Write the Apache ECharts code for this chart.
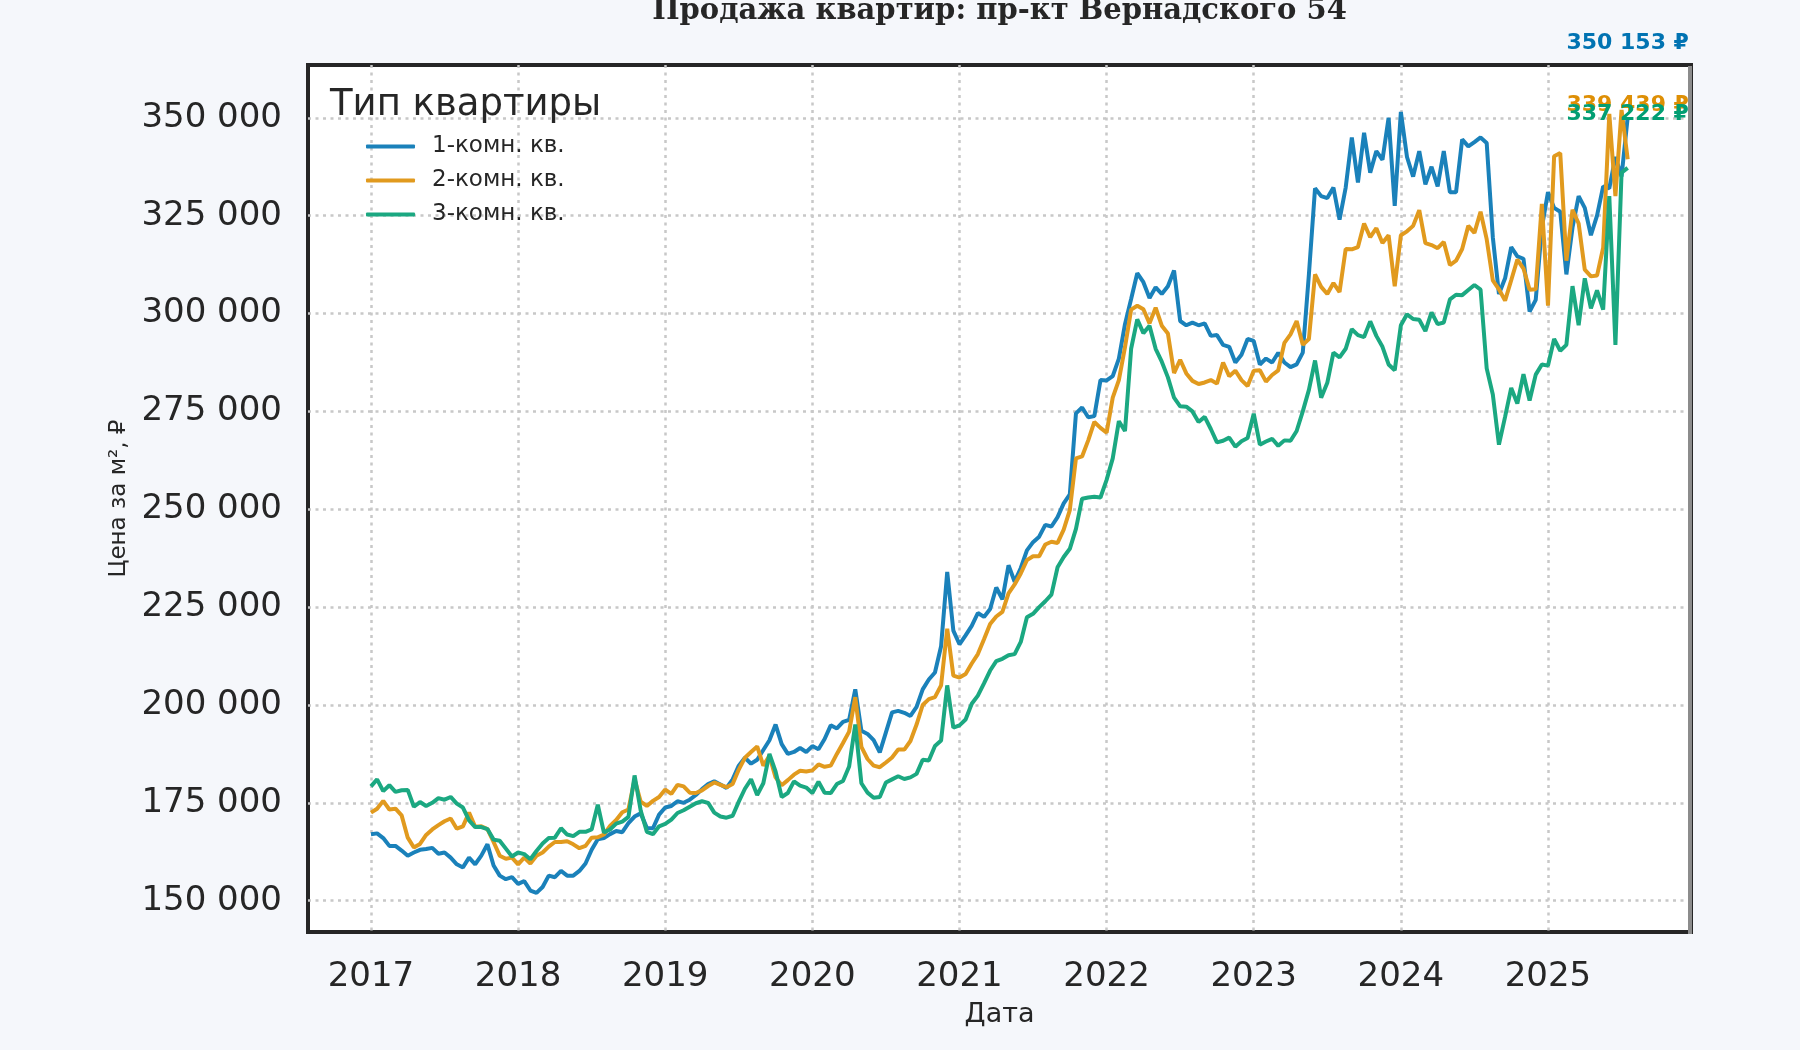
<!DOCTYPE html>
<html lang="ru">
<head>
    <meta charset="UTF-8">
    <title>Продажа квартир: пр-кт Вернадского 54</title>
    <script src="https://cdn.jsdelivr.net/npm/echarts@6/dist/echarts.min.js"></script>
    <style>
        html, body { margin: 0; padding: 0; background: #f5f7fb; }
        #main { width: 1800px; height: 1050px; }
    </style>
</head>
<body>
<div id="main"></div>
<script type="text/javascript">
    // цена за м², тыс. ₽ — отсчёты каждые полмесяца начиная с 2017-01
    var startYear = 2017;
    var stepsPerYear = 24;

    var room1 = [
        167.0, 167.2, 166.0, 164.0, 164.0, 162.8, 161.5, 162.3, 163.0, 163.2, 163.5, 162.0, 162.3, 161.0, 159.3, 158.5,
        161.0, 159.3, 161.5, 164.4, 159.0, 156.4, 155.5, 156.0, 154.3, 155.0, 152.6, 152.0, 153.5, 156.4, 156.0, 157.6,
        156.4, 156.4, 157.6, 159.5, 163.0, 165.7, 166.0, 167.0, 167.8, 167.5, 169.8, 171.5, 172.3, 168.6, 168.5, 172.0,
        173.8, 174.2, 175.4, 175.0, 175.8, 177.0, 178.5, 179.8, 180.5, 179.7, 178.8, 181.0, 184.5, 186.5, 185.0, 186.0,
        188.5, 191.0, 195.0, 190.0, 187.5, 188.0, 189.0, 188.0, 189.5, 188.7, 191.3, 194.8, 194.0, 195.7, 196.2, 204.0,
        193.4, 192.6, 191.0, 187.9, 193.0, 198.1, 198.5, 198.0, 197.2, 199.5, 204.0, 206.5, 208.3, 215.0, 234.0, 219.0,
        215.5, 217.8, 220.2, 223.5, 222.5, 224.5, 230.0, 227.0, 235.7, 231.5, 235.0, 239.5, 241.6, 243.0, 246.0, 245.6,
        248.0, 251.5, 253.8, 274.5, 276.0, 273.5, 273.8, 283.0, 282.9, 284.0, 288.5, 297.3, 303.7, 310.3, 308.0, 304.0,
        306.7, 305.0, 307.0, 311.0, 298.1, 297.0, 297.7, 297.0, 297.5, 294.3, 294.5, 292.0, 291.5, 287.5, 289.5, 293.5,
        293.0, 287.0, 288.5, 287.5, 290.0, 287.5, 286.3, 287.0, 290.0, 310.0, 332.0, 330.0, 329.5, 332.2, 324.0, 332.2,
        345.0, 333.5, 346.2, 336.0, 341.5, 339.3, 350.0, 327.5, 351.5, 340.0, 335.0, 341.5, 333.0, 337.5, 332.5, 341.5,
        331.0, 331.0, 344.5, 342.7, 343.8, 345.0, 343.6, 319.5, 305.0, 309.0, 317.0, 314.6, 314.0, 300.5, 303.5, 322.0,
        331.0, 327.0, 326.0, 310.0, 322.0, 330.0, 327.0, 320.0, 325.0, 332.5, 332.0, 340.0, 335.0, 350.153
    ];
    var room2 = [
        172.5, 173.5, 175.5, 173.3, 173.5, 171.8, 166.1, 163.6, 164.5, 166.8, 168.2, 169.3, 170.3, 171.0, 168.4, 169.0,
        172.5, 168.9, 169.0, 168.3, 165.0, 161.5, 160.7, 161.0, 159.3, 161.0, 159.5, 161.5, 162.3, 163.8, 165.0, 165.0,
        165.2, 164.4, 163.4, 164.0, 166.1, 166.2, 166.9, 169.1, 170.6, 172.6, 173.3, 181.0, 175.3, 174.2, 175.5, 176.5,
        178.4, 177.3, 179.6, 179.2, 177.6, 177.5, 178.2, 179.3, 180.2, 179.6, 179.0, 179.8, 183.5, 186.5, 188.0, 189.4,
        184.5, 187.0, 181.5, 179.5, 180.8, 182.2, 183.2, 183.0, 183.3, 184.8, 184.2, 184.5, 187.5, 190.3, 193.2, 202.0,
        189.3, 186.2, 184.5, 184.1, 185.3, 186.6, 188.6, 188.6, 190.8, 195.0, 200.0, 201.5, 202.0, 205.0, 219.5, 207.5,
        207.0, 207.9, 210.6, 213.0, 216.8, 220.7, 222.6, 223.8, 228.5, 230.8, 233.6, 237.0, 238.0, 238.0, 241.0, 241.7,
        241.4, 244.8, 249.8, 263.0, 263.5, 267.6, 272.3, 270.8, 269.6, 278.5, 283.0, 291.4, 301.0, 302.0, 301.1, 297.5,
        301.5, 296.9, 294.9, 284.8, 288.2, 284.7, 282.8, 282.0, 282.4, 283.0, 282.1, 287.5, 284.0, 285.4, 283.0, 281.5,
        285.4, 285.5, 282.6, 284.3, 285.5, 292.5, 294.7, 298.1, 292.0, 293.5, 310.0, 306.8, 305.0, 307.8, 305.5, 316.5,
        316.4, 317.0, 323.0, 319.5, 321.8, 318.0, 320.0, 307.0, 320.0, 321.0, 322.4, 326.4, 318.0, 317.5, 316.7, 318.3,
        312.4, 313.5, 316.5, 322.4, 320.6, 326.0, 319.0, 308.5, 306.2, 303.3, 308.5, 313.8, 311.5, 306.1, 306.2, 328.0,
        302.0, 340.2, 341.0, 313.5, 326.5, 323.0, 311.2, 309.5, 309.7, 316.8, 351.0, 330.0, 352.0, 339.439
    ];
    var room3 = [
        179.2, 181.0, 178.0, 179.5, 177.8, 178.2, 178.3, 174.0, 175.2, 174.2, 175.0, 176.2, 175.8, 176.5, 174.8, 173.8,
        170.5, 168.8, 168.8, 168.3, 165.6, 165.3, 163.3, 161.3, 162.3, 161.9, 160.6, 162.7, 164.6, 166.0, 166.1, 168.5,
        166.9, 166.5, 167.6, 167.6, 168.2, 174.5, 167.4, 168.2, 169.7, 170.2, 171.4, 182.0, 173.0, 167.6, 167.0, 169.0,
        169.6, 170.7, 172.4, 173.1, 174.0, 174.9, 175.4, 175.0, 172.5, 171.5, 171.2, 171.7, 175.3, 178.6, 181.0, 177.0,
        180.0, 187.5, 183.0, 176.5, 177.5, 180.5, 179.4, 178.9, 177.5, 180.4, 177.6, 177.5, 179.8, 180.6, 184.3, 195.0,
        180.0, 177.6, 176.3, 176.5, 180.2, 181.0, 181.8, 181.1, 181.5, 182.4, 186.0, 185.8, 189.5, 190.9, 205.0, 194.2,
        194.8, 196.3, 200.3, 202.4, 205.5, 208.8, 211.2, 211.8, 212.7, 213.0, 216.1, 222.4, 223.3, 225.0, 226.5, 228.2,
        235.2, 237.8, 239.9, 245.0, 252.7, 253.0, 253.2, 253.0, 257.5, 263.0, 272.5, 270.0, 291.0, 298.5, 295.0, 296.9,
        291.0, 287.7, 283.7, 278.5, 276.3, 276.2, 275.0, 272.3, 273.6, 270.5, 267.1, 267.5, 268.3, 266.0, 267.4, 268.2,
        274.4, 266.5, 267.3, 268.0, 266.2, 267.6, 267.5, 270.0, 275.0, 280.5, 288.0, 278.5, 282.3, 290.0, 288.8, 291.0,
        296.0, 294.5, 294.0, 298.0, 294.3, 291.5, 287.0, 285.5, 297.0, 299.8, 298.6, 298.4, 295.5, 300.3, 297.3, 297.7,
        303.6, 304.8, 304.7, 306.0, 307.3, 306.1, 286.0, 279.3, 266.5, 273.6, 281.0, 277.0, 284.5, 277.8, 284.4, 287.0,
        286.7, 293.5, 290.5, 292.0, 307.0, 297.0, 309.0, 301.3, 305.9, 301.0, 330.0, 292.0, 336.0, 337.222
    ];

    var seriesNames = ['1-комн. кв.', '2-комн. кв.', '3-комн. кв.'];
    var yTicks = [150000, 175000, 200000, 225000, 250000, 275000, 300000, 325000, 350000];
    var xTicks = [2017, 2018, 2019, 2020, 2021, 2022, 2023, 2024, 2025];

    var lineColors = ['#1a81ba', '#e19a1e', '#1ba881'];
    var labelColors = ['#0173b2', '#de8f05', '#029e73'];
    var labelOffsets = [-74, -54, -54];

    function fmt(v) {
        return String(Math.round(v)).replace(/\B(?=(\d{3})+(?!\d))/g, ' ');
    }

    function toPoints(vals) {
        return vals.map(function (v, i) {
            return [startYear + i / stepsPerYear, Math.round(v * 1000)];
        });
    }

    var font = 'DejaVu Sans';
    var txt = '#262626';
    var grid = {left: 308, right: 109, top: 65, bottom: 118};

    var series = [room1, room2, room3].map(function (vals, k) {
        var pts = toPoints(vals);
        var last = pts[pts.length - 1];
        return {
            name: seriesNames[k],
            type: 'line',
            data: pts,
            showSymbol: false,
            color: lineColors[k],
            lineStyle: {width: 4, color: lineColors[k]},
            clip: false,
            markPoint: {
                symbol: 'circle',
                symbolSize: 1,
                itemStyle: {color: 'rgba(0,0,0,0)'},
                label: {
                    show: true,
                    position: 'inside',
                    offset: [0, labelOffsets[k]],
                    color: labelColors[k],
                    fontFamily: font,
                    fontWeight: 'bold',
                    fontSize: 22,
                    formatter: function () { return fmt(last[1]) + ' ₽'; }
                },
                data: [{coord: last, value: last[1]}]
            }
        };
    });

    var myChart = echarts.init(document.getElementById('main'));
    var option = {
        backgroundColor: '#f5f7fb',
        animation: false,
        grid: {
            left: grid.left, right: grid.right, top: grid.top, bottom: grid.bottom,
            show: true, backgroundColor: '#ffffff', borderColor: '#262626', borderWidth: 4
        },
        legend: {
            orient: 'vertical',
            left: 361,
            top: 130,
            itemWidth: 49,
            itemHeight: 4,
            itemGap: 11,
            icon: 'roundRect',
            data: seriesNames,
            textStyle: {fontSize: 23, color: txt, fontFamily: font, padding: [0, 0, 0, 12]}
        },
        xAxis: {
            type: 'value',
            min: 2016.572,
            max: 2025.972,
            name: 'Дата',
            nameLocation: 'middle',
            nameGap: 69,
            nameTextStyle: {fontSize: 27, color: txt, fontFamily: font},
            axisLine: {show: false},
            axisTick: {show: false, customValues: xTicks},
            axisLabel: {
                customValues: xTicks, margin: 28,
                fontSize: 34, color: txt, fontFamily: font,
                formatter: function (v) { return String(v); }
            },
            splitLine: {show: true, lineStyle: {color: '#c8c8c8', width: 2.5, type: [3, 4.5]}}
        },
        yAxis: {
            type: 'value',
            min: 142000,
            max: 363500,
            name: 'Цена за м², ₽',
            nameLocation: 'middle',
            nameGap: 177,
            nameRotate: 90,
            nameTextStyle: {fontSize: 23, color: txt, fontFamily: font},
            axisLine: {show: false},
            axisTick: {show: false, customValues: yTicks},
            axisLabel: {
                customValues: yTicks, margin: 26,
                fontSize: 34, color: txt, fontFamily: font,
                padding: [16, 0, 0, 0],
                formatter: fmt
            },
            splitLine: {show: true, lineStyle: {color: '#c8c8c8', width: 2.5, type: [3, 4.5]}}
        },
        graphic: [
            {
                type: 'text', z: 100,
                style: {
                    text: 'Продажа квартир: пр-кт Вернадского 54',
                    x: 999.5, y: 11,
                    textAlign: 'center', align: 'center',
                    textVerticalAlign: 'middle', verticalAlign: 'middle',
                    font: 'bold 29px "DejaVu Serif"', fill: txt
                }
            },
            {
                type: 'text', z: 100,
                style: {
                    text: 'Тип квартиры',
                    x: 330, y: 105,
                    textAlign: 'left', align: 'left',
                    textVerticalAlign: 'middle', verticalAlign: 'middle',
                    font: '37px "DejaVu Sans"', fill: txt
                }
            },
            {
                // правая рамка светлее остальных
                type: 'rect', z: 100,
                shape: {x: 1688, y: 66, width: 4, height: 868},
                style: {fill: '#8c8c8c'}
            }
        ],
        series: series
    };
    myChart.setOption(option);
</script>
</body>
</html>
